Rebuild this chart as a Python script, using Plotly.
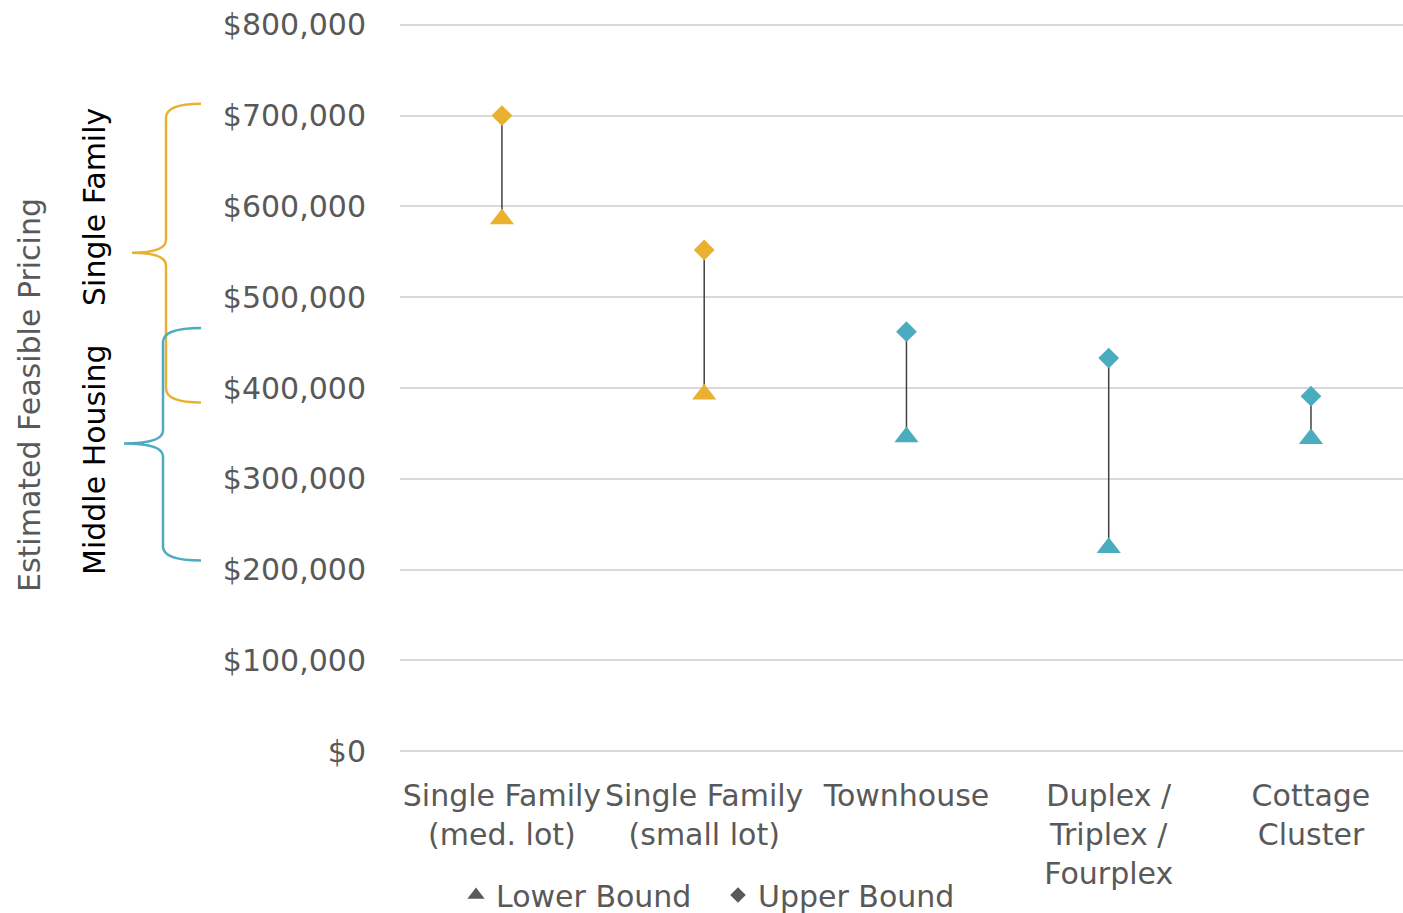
import plotly.graph_objects as go

# ---- data ----
categories = ["Single Family<br>(med. lot)", "Single Family<br>(small lot)", "Townhouse",
              "Duplex /<br>Triplex /<br>Fourplex", "Cottage<br>Cluster"]
lower_bound = [586000, 393000, 346000, 224000, 344000]
upper_bound = [700000, 552000, 462000, 433000, 391000]
group = ["sf", "sf", "mh", "mh", "mh"]
y_ticks = [0, 100000, 200000, 300000, 400000, 500000, 600000, 700000, 800000]
y_tick_labels = ["$0", "$100,000", "$200,000", "$300,000", "$400,000", "$500,000",
                 "$600,000", "$700,000", "$800,000"]

GOLD = "#E9B12F"
TEAL = "#4BACC0"
colors = [GOLD if g == "sf" else TEAL for g in group]
FONT = "DejaVu Sans"
GRAY = "#595959"
FS = 30

W, H = 1403, 913
L, R, T, B = 400, 0, 23, 160
PW, PH = W - L - R, H - T - B
Y0, Y1 = -2000, 802000


def px(x):
    return (x - L) / PW


def py(y):
    return (H - B - y) / PH


fig = go.Figure()

# connecting high-low lines
lx, ly = [], []
for i, c in enumerate(categories):
    lx += [c, c, None]
    ly += [lower_bound[i], upper_bound[i], None]
fig.add_trace(go.Scatter(x=lx, y=ly, mode="lines", line=dict(color="#404040", width=1.5),
                         showlegend=False, hoverinfo="skip"))

fig.add_trace(go.Scatter(x=categories, y=lower_bound, mode="markers", name="Lower Bound",
                         marker=dict(symbol="triangle-up", size=21, color=colors, line=dict(width=0)),
                         showlegend=False))
fig.add_trace(go.Scatter(x=categories, y=upper_bound, mode="markers", name="Upper Bound",
                         marker=dict(symbol="diamond", size=16, color=colors, line=dict(width=0)),
                         showlegend=False))

# legend entries (gray symbols)
fig.add_trace(go.Scatter(x=[None], y=[None], mode="markers", name="Lower Bound",
                         marker=dict(symbol="triangle-up", size=15, color=GRAY)))
fig.add_trace(go.Scatter(x=[None], y=[None], mode="markers", name="Upper Bound",
                         marker=dict(symbol="diamond", size=12, color=GRAY)))

# braces (paper x, data y)
def brace(x_end, x_spine, x_tip, y_top, y_tip, y_bot, r=14):
    xe, xs, xt = px(x_end), px(x_spine), px(x_tip)
    yt, ym, yb = y_top, y_tip, y_bot
    k = 13
    d = 100000 / 90.75  # value per pixel
    return (f"M {xe},{yt} Q {xs},{yt} {xs},{yt - r*d} L {xs},{ym + k*d} "
            f"Q {xs},{ym} {xt},{ym} Q {xs},{ym} {xs},{ym - k*d} "
            f"L {xs},{yb + r*d} Q {xs},{yb} {xe},{yb}")

fig.add_shape(type="path", xref="paper", yref="y",
              path=brace(201, 166, 132, 713000, 549000, 384000),
              line=dict(color=GOLD, width=2.5))
fig.add_shape(type="path", xref="paper", yref="y",
              path=brace(201, 163, 124, 466000, 339000, 210000),
              line=dict(color=TEAL, width=2.5))

# side labels
fig.add_annotation(text="Estimated Feasible Pricing", x=px(29), y=py(395), xref="paper", yref="paper",
                   textangle=-90, showarrow=False, font=dict(family=FONT, size=FS, color=GRAY),
                   xanchor="center", yanchor="middle")
fig.add_annotation(text="Single Family", x=px(95), y=py(207), xref="paper", yref="paper",
                   textangle=-90, showarrow=False, font=dict(family=FONT, size=FS, color="black"),
                   xanchor="center", yanchor="middle")
fig.add_annotation(text="Middle Housing", x=px(94), y=py(460), xref="paper", yref="paper",
                   textangle=-90, showarrow=False, font=dict(family=FONT, size=FS, color="black"),
                   xanchor="center", yanchor="middle")

fig.update_layout(
    width=W, height=H,
    margin=dict(l=L, r=R, t=T, b=B, autoexpand=False),
    plot_bgcolor="white", paper_bgcolor="white",
    font=dict(family=FONT, size=FS, color=GRAY),
    showlegend=True,
    legend=dict(orientation="h", x=px(456), xanchor="left", y=py(895), yanchor="middle",
                font=dict(family=FONT, size=FS, color=GRAY), bgcolor="rgba(0,0,0,0)",
                itemwidth=30, tracegroupgap=0, entrywidth=217, entrywidthmode="pixels"),
    xaxis=dict(type="category", range=[-0.504, 4.455], showgrid=False, zeroline=False,
               showline=False, ticks="", tickfont=dict(family=FONT, size=FS, color=GRAY),
               tickangle=0, ticklabelstandoff=22),
    yaxis=dict(range=[Y0, Y1], tickvals=y_ticks, ticktext=y_tick_labels,
               showgrid=True, gridcolor="#D9D9D9", gridwidth=1.5, zeroline=False,
               showline=False, ticks="", tickfont=dict(family=FONT, size=FS, color=GRAY),
               ticklabelstandoff=33),
)

fig.write_html("out.html", config={"displayModeBar": False},
               post_script="document.body.style.margin='0';document.body.style.overflow='hidden';")
